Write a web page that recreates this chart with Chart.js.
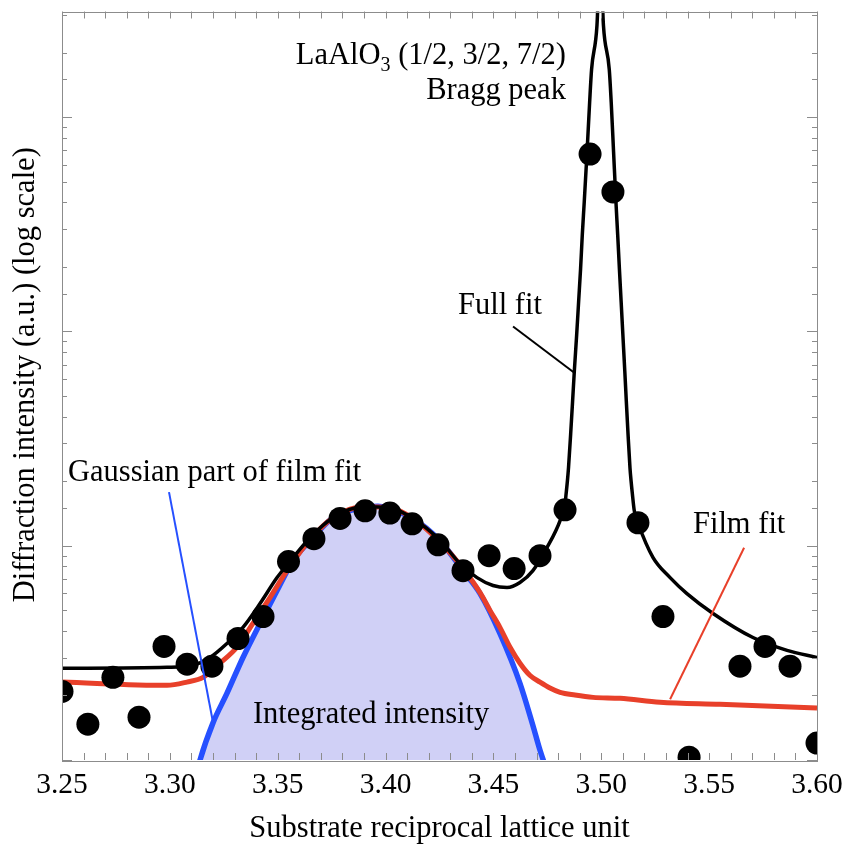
<!DOCTYPE html>
<html>
<head>
<meta charset="utf-8">
<script src="https://cdn.jsdelivr.net/npm/chart.js@4.4.1/dist/chart.umd.min.js"></script>
<style>
  html, body { margin: 0; padding: 0; background: #fff; }
  #wrap { width: 842px; height: 847px; position: relative; }
</style>
</head>
<body>
<div id="wrap"><canvas id="chart"></canvas></div>
<script>
// x axis
const xMin = 3.25;
const xMax = 3.60;
const xTickValues = [3.25, 3.30, 3.35, 3.40, 3.45, 3.50, 3.55, 3.60];
const xMinorStep = 0.01;
// y axis (log, no labels)
const yMin = 1;
const yMax = 3113;
const yTitle = 'Diffraction intensity (a.u.) (log scale)';

// measured points
const dataX = [3.250, 3.262, 3.2736, 3.2857, 3.2973, 3.308, 3.3195, 3.3316, 3.3432, 3.355,
  3.3668, 3.3789, 3.3905, 3.402, 3.4123, 3.4243, 3.4359, 3.448, 3.4596, 3.4716,
  3.4832, 3.4948, 3.5054, 3.517, 3.5286, 3.5407, 3.5643, 3.5759, 3.5875, 3.600];
const dataY = [2.09, 1.47, 2.43, 1.585, 3.39, 2.80, 2.74, 3.69, 4.67, 8.43,
  10.78, 13.4, 14.55, 14.2, 12.66, 10.1, 7.65, 8.98, 7.82, 8.98,
  14.7, 673, 448, 12.8, 4.67, 1.03, 2.74, 3.39, 2.74, 1.2];

// full fit (black)
const fullX = [3.2500, 3.2987, 3.3107, 3.3186, 3.3265, 3.3339, 3.3418, 3.3497, 3.3571, 3.3650,
  3.3756, 3.3895, 3.4021, 3.4127, 3.4252, 3.4345, 3.4424, 3.4498, 3.4563, 3.4623,
  3.4683, 3.4748, 3.4809, 3.4832, 3.4837, 3.4843, 3.4848, 3.4858, 3.4867, 3.4875,
  3.4886, 3.4895, 3.4904, 3.4912, 3.4921, 3.4934, 3.4946, 3.4955, 3.4980, 3.4995,
  3.5010, 3.5037, 3.5046, 3.5057, 3.5068, 3.5076, 3.5084, 3.5092, 3.5100, 3.5109,
  3.5116, 3.5124, 3.5133, 3.5138, 3.5144, 3.5153, 3.5171, 3.5240, 3.5319, 3.5397,
  3.5518, 3.5703, 3.5861, 3.6000];
const fullY = [2.68, 2.71, 2.77, 3.01, 3.50, 4.16, 5.37, 7.10, 8.80, 10.9,
  13.5, 15.2, 15.0, 13.4, 10.6, 8.25, 7.10, 6.52, 6.38, 6.73,
  7.65, 9.79, 13.1, 15.7, 17.5, 20.1, 23.1, 33.2, 47.3, 65.2,
  96.8, 138, 196, 283, 402, 687, 1174, 1672, 2680, 6000,
  2680, 1672, 1174, 687, 402, 283, 196, 138, 96.8, 65.2,
  47.3, 33.2, 23.1, 20.1, 17.5, 14.55, 12.7, 8.80, 7.10, 5.98,
  4.83, 3.73, 3.25, 3.01];

// film fit (red)
const filmX = [3.2500, 3.2987, 3.3079, 3.3154, 3.3232, 3.3311, 3.3385, 3.3464, 3.3543, 3.3650,
  3.3756, 3.3895, 3.4021, 3.4127, 3.4252, 3.4359, 3.4438, 3.4484, 3.4530, 3.4577,
  3.4623, 3.4670, 3.4716, 3.4762, 3.4809, 3.4878, 3.4962, 3.5087, 3.5272, 3.5550,
  3.6000];
const filmY = [2.31, 2.23, 2.31, 2.43, 2.83, 3.36, 4.34, 5.73, 7.65, 10.7,
  13.5, 15.2, 15.0, 13.4, 10.4, 7.82, 6.04, 4.99, 4.16, 3.36,
  2.83, 2.48, 2.31, 2.17, 2.07, 2.01, 1.96, 1.94, 1.86, 1.82,
  1.75];

// gaussian part of film fit (blue, filled)
const gaussX = [3.3117, 3.3140, 3.3200, 3.3265, 3.3339, 3.3418, 3.3497, 3.3571, 3.3650, 3.3756,
  3.3881, 3.3965, 3.4021, 3.4127, 3.4252, 3.4359, 3.4438, 3.4530, 3.4623, 3.4683,
  3.4716, 3.4748, 3.4771];
const gaussY = [0.807, 1.00, 1.49, 2.05, 3.01, 4.34, 6.18, 8.52, 10.55, 13.5,
  15.0, 15.3, 14.8, 13.4, 10.55, 7.65, 5.98, 3.90, 2.28, 1.45,
  1.11, 0.90, 0.807];

// text labels, anchored in data units
const notes = [
  { text: 'Bragg peak', x: 3.4836, y: 1213, align: 'right' },
  { text: 'Full fit', x: 3.4336, y: 120, align: 'left' },
  { text: 'Gaussian part of film fit', x: 3.2528, y: 20.1, align: 'left' },
  { text: 'Film fit', x: 3.5425, y: 11.5, align: 'left' },
  { text: 'Integrated intensity', x: 3.3385, y: 1.49, align: 'left' }
];
// leader lines [x1, y1, x2, y2, colour]
const leaders = [
  [3.4591, 105.5, 3.4878, 63.8, '#000000'],
  [3.2996, 17.8, 3.3200, 1.50, '#2650ff'],
  [3.5662, 9.79, 3.5319, 1.92, '#e8402a']
];

const FONT = "'Liberation Serif', 'Times New Roman', serif";
const TEXT_SIZE = 30.5;
Chart.defaults.font.family = FONT;
Chart.defaults.color = '#000';

const pts = (xs, ys) => xs.map((x, i) => ({ x: x, y: ys[i] }));

const framePlugin = {
  id: 'frame',
  afterDatasetsDraw(chart) {
    const { ctx, chartArea: a, scales: { x, y } } = chart;
    ctx.save();
    ctx.strokeStyle = '#8c8c8c';
    ctx.lineWidth = 1;
    ctx.beginPath();
    for (let v = xMin; v <= xMax + 1e-9; v += xMinorStep) {
      const px = Math.round(x.getPixelForValue(v)) + 0.5;
      ctx.moveTo(px, a.bottom); ctx.lineTo(px, a.bottom - 7);
      ctx.moveTo(px, a.top); ctx.lineTo(px, a.top + 7);
    }
    y.ticks.forEach(t => {
      if (t.value < yMin || t.value > yMax) return;
      const lg = Math.log10(t.value);
      const len = Math.abs(lg - Math.round(lg)) < 1e-6 ? 10 : 5;
      const py = Math.round(y.getPixelForValue(t.value)) + 0.5;
      ctx.moveTo(a.left, py); ctx.lineTo(a.left + len, py);
      ctx.moveTo(a.right, py); ctx.lineTo(a.right - len, py);
    });
    ctx.stroke();
    ctx.strokeRect(Math.round(a.left) + 0.5, Math.round(a.top) + 0.5,
      Math.round(a.right - a.left), Math.round(a.bottom - a.top));

    // leader lines
    ctx.lineWidth = 2;
    leaders.forEach(l => {
      ctx.strokeStyle = l[4];
      ctx.beginPath();
      ctx.moveTo(x.getPixelForValue(l[0]), y.getPixelForValue(l[1]));
      ctx.lineTo(x.getPixelForValue(l[2]), y.getPixelForValue(l[3]));
      ctx.stroke();
    });

    // labels
    ctx.fillStyle = '#000';
    ctx.textBaseline = 'alphabetic';
    ctx.font = TEXT_SIZE + 'px ' + FONT;
    notes.forEach(n => {
      ctx.textAlign = n.align;
      ctx.fillText(n.text, x.getPixelForValue(n.x), y.getPixelForValue(n.y));
    });

    // LaAlO3 (1/2, 3/2, 7/2) with subscript, right aligned
    const rx = x.getPixelForValue(3.4836);
    const by = y.getPixelForValue(1764);
    ctx.textAlign = 'left';
    const p1 = 'LaAlO', p2 = '3', p3 = ' (1/2, 3/2, 7/2)';
    const big = TEXT_SIZE + 'px ' + FONT, small = '20px ' + FONT;
    ctx.font = big;
    const w1 = ctx.measureText(p1).width, w3 = ctx.measureText(p3).width;
    ctx.font = small;
    const w2 = ctx.measureText(p2).width;
    const sx = rx - (w1 + w2 + w3);
    ctx.font = big;
    ctx.fillText(p1, sx, by);
    ctx.font = small;
    ctx.fillText(p2, sx + w1, by + 7);
    ctx.font = big;
    ctx.fillText(p3, sx + w1 + w2, by);

    // y axis title (sits a little above the plot's middle in the original)
    ctx.font = big;
    ctx.textAlign = 'center';
    ctx.textBaseline = 'middle';
    ctx.translate(25.5, (a.top + a.bottom) / 2 - 11);
    ctx.rotate(-Math.PI / 2);
    ctx.fillText(yTitle, 0, 0);
    ctx.restore();
  }
};

new Chart(document.getElementById('chart'), {
  type: 'line',
  data: {
    datasets: [{
      type: 'scatter',
      label: 'Measured',
      data: pts(dataX, dataY),
      pointRadius: 11.5,
      pointBackgroundColor: '#000',
      pointBorderWidth: 0,
      showLine: false,
      clip: 0
    }, {
      label: 'Full fit',
      data: pts(fullX, fullY),
      borderColor: '#000',
      borderWidth: 3.5,
      pointRadius: 0,
      cubicInterpolationMode: 'monotone',
      clip: 0
    }, {
      label: 'Film fit',
      data: pts(filmX, filmY),
      borderColor: '#e8402a',
      borderWidth: 5,
      pointRadius: 0,
      cubicInterpolationMode: 'monotone',
      clip: 0
    }, {
      label: 'Gaussian part of film fit',
      data: pts(gaussX, gaussY),
      borderColor: '#2650ff',
      borderWidth: 5.5,
      backgroundColor: '#d0d0f6',
      fill: 'start',
      pointRadius: 0,
      cubicInterpolationMode: 'monotone',
      clip: 0
    }]
  },
  options: {
    animation: false,
    responsive: true,
    maintainAspectRatio: false,
    layout: { padding: { top: 9, right: 25, bottom: 0, left: 4 } },
    plugins: { legend: { display: false }, tooltip: { enabled: false } },
    scales: {
      x: {
        type: 'linear',
        min: xMin,
        max: xMax,
        grid: { display: false },
        border: { display: false },
        ticks: { font: { size: 29.5 }, color: '#000', padding: 0, callback: v => v.toFixed(2) },
        afterBuildTicks: s => { s.ticks = xTickValues.map(v => ({ value: v })); },
        afterFit: s => { s.height = 87; s.paddingLeft = 0; s.paddingRight = 0; },
        title: {
          display: true,
          text: 'Substrate reciprocal lattice unit',
          font: { size: TEXT_SIZE },
          color: '#000',
          padding: { top: 0, bottom: 0 }
        }
      },
      y: {
        type: 'logarithmic',
        min: yMin,
        max: yMax,
        grid: { display: false },
        border: { display: false },
        ticks: { display: false },
        afterFit: s => { s.width = 58; s.paddingTop = 0; s.paddingBottom = 0; },
        title: { display: false }
      }
    }
  },
  plugins: [framePlugin]
});
</script>
</body>
</html>
